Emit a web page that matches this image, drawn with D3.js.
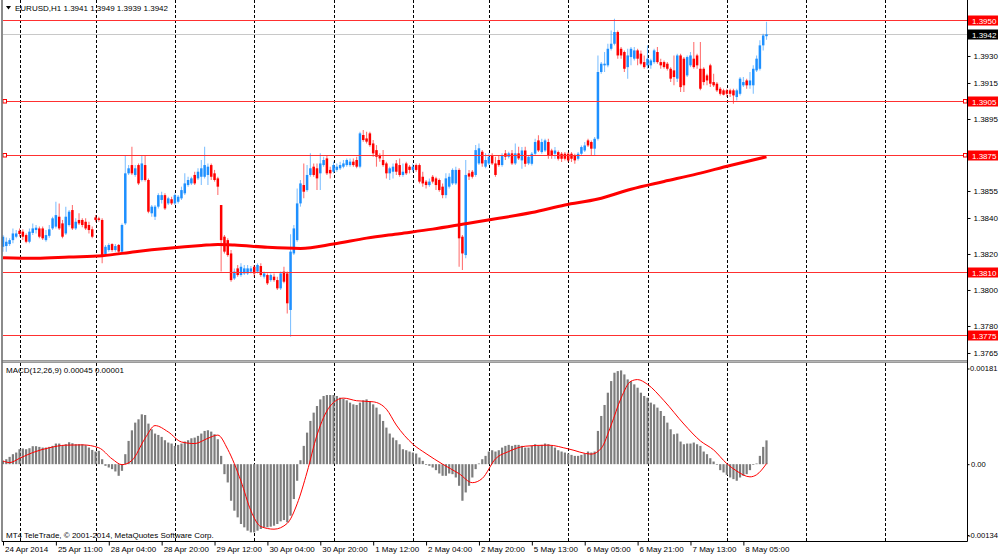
<!DOCTYPE html>
<html><head><meta charset="utf-8">
<script src="https://cdn.jsdelivr.net/npm/d3@7"></script>
<style>
html,body{margin:0;padding:0;background:#fff;}
svg{display:block;}
</style></head><body>
<svg id="c" width="1000" height="556"></svg>
<script>
// ---------- DATA ----------
const symbolTitle = "EURUSD,H1";
const lastOHLC = [1.3941, 1.3949, 1.3939, 1.3942];

const open = [
1.3824,1.38244,1.38255,1.38277,1.38296,1.38329,1.38324,1.38305,1.38268,1.38317,
1.38333,1.38342,1.38342,1.38277,1.38301,1.38342,1.38352,1.38407,1.3837,1.38314,
1.38361,1.38444,1.38342,1.38389,1.38389,1.38379,1.38361,1.38337,1.38403,1.38398,
1.38389,1.382,1.38222,1.38255,1.38222,1.3825,1.38213,1.3837,1.38648,1.38694,
1.38639,1.38694,1.38611,1.38694,1.38611,1.38426,1.38407,1.38463,1.385,1.38527,
1.38481,1.38504,1.38481,1.3849,1.38509,1.38537,1.38583,1.38592,1.38639,1.3862,
1.38629,1.38629,1.38639,1.38694,1.38648,1.3862,1.38472,1.38296,1.38277,1.38203,
1.38064,1.3812,1.38083,1.38092,1.38092,1.38102,1.38129,1.38102,1.38133,1.38074,
1.38083,1.38055,1.38074,1.38055,1.38009,1.38102,1.38092,1.37889,1.38203,1.38277,
1.38481,1.38583,1.38555,1.38639,1.38685,1.38676,1.38648,1.38694,1.38731,1.38667,
1.38657,1.38667,1.38676,1.38685,1.38694,1.38694,1.38713,1.38722,1.38685,1.38861,
1.38842,1.3887,1.38814,1.38777,1.3875,1.38722,1.38703,1.38648,1.38657,1.38703,
1.38694,1.38639,1.38703,1.38685,1.38667,1.38694,1.38694,1.38629,1.38602,1.38583,
1.38629,1.3862,1.38611,1.38574,1.38527,1.38574,1.38592,1.38592,1.38667,1.38296,
1.38194,1.38648,1.38657,1.38639,1.38703,1.38768,1.38685,1.38703,1.3875,1.38703,
1.38722,1.38694,1.38759,1.3874,1.38759,1.38703,1.38759,1.3872,1.38775,1.38703,
1.38701,1.38757,1.38831,1.38766,1.38775,1.38822,1.38775,1.38757,1.38766,1.38757,
1.38757,1.38757,1.38757,1.38748,1.38729,1.38757,1.38775,1.38831,1.38822,1.38785,
1.3884,1.39211,1.39248,1.39248,1.3934,1.39368,1.39433,1.3934,1.39322,1.39238,
1.39294,1.39285,1.39331,1.39313,1.39266,1.39248,1.39248,1.39266,1.39322,1.39266,
1.39266,1.39257,1.39229,1.3922,1.39174,1.39303,1.39285,1.39192,1.39248,1.39285,
1.39303,1.39229,1.39229,1.39192,1.39248,1.39155,1.39146,1.39118,1.39109,1.39109,
1.39109,1.39109,1.39072,1.3909,1.39137,1.39164,1.39137,1.39137,1.3922,1.39229,
1.39359,1.3941
];
const high = [
1.38305,1.38292,1.38287,1.38342,1.38333,1.38342,1.38337,1.38314,1.38342,1.3837,
1.38361,1.38352,1.38352,1.38333,1.38361,1.38407,1.3849,1.38481,1.38389,1.38463,
1.38444,1.38472,1.38398,1.38426,1.38398,1.38398,1.38379,1.38352,1.38416,1.38407,
1.38398,1.3825,1.38259,1.38259,1.38255,1.38255,1.3837,1.3875,1.38694,1.38796,
1.38694,1.38703,1.3875,1.3875,1.3862,1.38472,1.38472,1.38537,1.38546,1.38537,
1.38518,1.38518,1.38537,1.38527,1.38574,1.38648,1.38629,1.38629,1.38657,1.38676,
1.38722,1.38796,1.38703,1.38703,1.38667,1.38629,1.38472,1.38305,1.38287,1.38222,
1.3812,1.38139,1.38148,1.38139,1.38139,1.38133,1.38139,1.38148,1.38148,1.38102,
1.38092,1.38092,1.38092,1.38074,1.38102,1.38129,1.38102,1.3831,1.38361,1.38564,
1.38611,1.38703,1.38694,1.38759,1.38703,1.38703,1.38759,1.3874,1.3875,1.38685,
1.38713,1.38703,1.38713,1.38722,1.38731,1.38731,1.38731,1.3874,1.38879,1.38889,
1.38879,1.38879,1.38833,1.38805,1.38759,1.38777,1.38713,1.38685,1.38703,1.38722,
1.38731,1.38703,1.38713,1.38694,1.38703,1.38703,1.38703,1.38657,1.38611,1.3862,
1.38639,1.38629,1.3862,1.38592,1.38648,1.38648,1.38676,1.38685,1.38676,1.38305,
1.38722,1.38667,1.38667,1.38805,1.38814,1.38777,1.38759,1.38759,1.38759,1.3874,
1.3875,1.38759,1.38777,1.38768,1.38777,1.38814,1.38796,1.38794,1.38796,1.38748,
1.38767,1.3884,1.38859,1.3884,1.3884,1.3884,1.38785,1.38794,1.38775,1.38766,
1.38766,1.38766,1.38766,1.38757,1.38766,1.38803,1.38822,1.3884,1.38831,1.3885,
1.39303,1.39266,1.39322,1.39368,1.39442,1.39507,1.39442,1.3935,1.39331,1.3934,
1.3935,1.3935,1.3934,1.39331,1.39303,1.39359,1.39285,1.3934,1.3935,1.39285,
1.39275,1.39266,1.39238,1.39303,1.39313,1.39313,1.39294,1.39303,1.39322,1.39377,
1.39313,1.39377,1.39238,1.39201,1.39257,1.39201,1.39155,1.39127,1.39118,1.39118,
1.39118,1.39118,1.39118,1.39183,1.39183,1.39174,1.39211,1.39248,1.39303,1.39387,
1.39424,1.3949
];
const low = [
1.38213,1.38213,1.38244,1.38259,1.38287,1.38296,1.38277,1.38259,1.38259,1.38305,
1.38314,1.38287,1.38277,1.38268,1.3829,1.38333,1.38342,1.38333,1.38287,1.38305,
1.38352,1.38333,1.38333,1.38361,1.38348,1.38333,1.38314,1.38287,1.38379,1.38379,
1.38148,1.38194,1.38213,1.38213,1.38213,1.38207,1.38203,1.38361,1.38639,1.38639,
1.38629,1.38583,1.38602,1.38602,1.38426,1.38407,1.38389,1.38453,1.38481,1.38444,
1.38472,1.38472,1.38472,1.38481,1.385,1.38527,1.38574,1.38583,1.38583,1.38611,
1.38583,1.3862,1.38583,1.38611,1.38602,1.38527,1.38102,1.38203,1.38185,1.38046,
1.38055,1.38074,1.38074,1.38083,1.38083,1.38092,1.38074,1.38092,1.38074,1.38064,
1.38028,1.38046,1.38046,1.38,1.38,1.38037,1.3787,1.3774,1.38194,1.38268,
1.38463,1.38509,1.38546,1.38629,1.38629,1.38555,1.38555,1.38685,1.38639,1.3862,
1.38648,1.38657,1.38667,1.38676,1.38685,1.38685,1.38685,1.38676,1.38676,1.38824,
1.38814,1.38796,1.3874,1.38685,1.38713,1.38685,1.3862,1.38611,1.3862,1.38639,
1.38629,1.38629,1.38639,1.38648,1.38657,1.38657,1.38592,1.38574,1.38564,1.38574,
1.38592,1.38555,1.38546,1.38509,1.38509,1.38564,1.38583,1.38583,1.38129,1.38111,
1.38176,1.38611,1.3862,1.38629,1.38694,1.38685,1.38676,1.38694,1.38694,1.38629,
1.38685,1.38685,1.38722,1.38731,1.38694,1.38694,1.38722,1.38674,1.38685,1.38694,
1.38692,1.38748,1.38766,1.38757,1.38766,1.38729,1.38729,1.38729,1.3872,1.38711,
1.3872,1.38711,1.38711,1.38701,1.3872,1.38748,1.38766,1.38794,1.38748,1.38748,
1.38831,1.39201,1.39211,1.39238,1.39331,1.39359,1.39285,1.39285,1.39211,1.39174,
1.39248,1.39275,1.39248,1.39248,1.39229,1.39229,1.39229,1.39257,1.39257,1.39229,
1.39229,1.3922,1.39155,1.39137,1.39155,1.391,1.391,1.39183,1.39238,1.39229,
1.39229,1.39109,1.39137,1.39137,1.39127,1.39127,1.391,1.39081,1.39081,1.39072,
1.39072,1.39035,1.39053,1.39081,1.39127,1.39118,1.39118,1.3909,1.39211,1.3922,
1.39331,1.3939
];
const close = [
1.38296,1.38268,1.38277,1.38314,1.38314,1.38311,1.38296,1.38268,1.38324,1.38342,
1.38346,1.38296,1.38287,1.38305,1.38337,1.38398,1.38416,1.38342,1.38296,1.38407,
1.38435,1.38342,1.38379,1.3837,1.38361,1.38342,1.38333,1.38296,1.38389,1.38389,
1.38194,1.3824,1.3825,1.38222,1.38244,1.38213,1.38361,1.38648,1.38676,1.38648,
1.38676,1.38592,1.38703,1.38611,1.38435,1.38463,1.38463,1.38527,1.38527,1.38453,
1.38509,1.38481,1.38527,1.38518,1.38555,1.38592,1.38611,1.3862,1.38592,1.38657,
1.38676,1.38694,1.38685,1.38629,1.38611,1.38574,1.38277,1.38213,1.38194,1.38055,
1.38102,1.38083,1.38129,1.3812,1.3812,1.3812,1.38092,1.38139,1.38083,1.38092,
1.38037,1.38083,1.38055,1.38009,1.38092,1.38046,1.37926,1.38213,1.38342,1.38481,
1.38592,1.38546,1.38639,1.38676,1.38639,1.3862,1.38703,1.38722,1.38648,1.38648,
1.38694,1.38685,1.38694,1.38703,1.38722,1.38713,1.38694,1.38685,1.3887,1.38833,
1.38824,1.38805,1.38759,1.3874,1.38731,1.38694,1.38648,1.38676,1.38685,1.38657,
1.38639,1.38657,1.38648,1.38667,1.38685,1.38667,1.38602,1.38592,1.38583,1.38602,
1.38602,1.38583,1.38555,1.38527,1.3862,1.38629,1.38667,1.38667,1.38287,1.38203,
1.38639,1.3863,1.38629,1.38777,1.38787,1.38703,1.38722,1.3874,1.38703,1.38639,
1.38694,1.3875,1.3874,1.38759,1.38703,1.38759,1.38731,1.38775,1.38701,1.3874,
1.38757,1.38822,1.38775,1.38822,1.38831,1.38748,1.38748,1.38775,1.38729,1.38729,
1.38729,1.3872,1.38729,1.3872,1.38757,1.38794,1.38803,1.38803,1.38785,1.3884,
1.39211,1.39257,1.39257,1.3934,1.39368,1.39433,1.39303,1.39303,1.39229,1.39303,
1.3934,1.39331,1.39285,1.39257,1.39238,1.39285,1.39275,1.39331,1.39266,1.39248,
1.39238,1.39229,1.39174,1.39183,1.39303,1.39127,1.39137,1.39294,1.39303,1.39238,
1.39248,1.39118,1.39155,1.39164,1.39146,1.39137,1.39109,1.3909,1.39085,1.3909,
1.3909,1.39081,1.39109,1.39174,1.39155,1.39137,1.39164,1.39229,1.39285,1.39359,
1.39414,1.3942
];

// moving average (thick red line), sampled at bar indices
const maBars   = [0,10,20,30,40,50,60,65,70,80,90,100,110,120,130,140,150,160,170,180,190,200,210,220,231];
const maValues = [1.38179,1.38176,1.38183,1.3819,1.38213,1.38232,1.38247,1.38253,1.3825,1.38237,1.38231,1.38255,1.38288,1.38313,1.38338,1.38368,1.38398,1.3843,1.38472,1.38505,1.3856,1.38603,1.38645,1.38692,1.3874];

// MACD(12,26,9) main histogram, one value per bar
const macdHist = [
0.000063,0.000094,0.000138,0.000189,0.00022,0.000283,0.000296,0.000283,0.000302,0.00034,
0.00034,0.000327,0.000314,0.000314,0.000327,0.000346,0.00039,0.00039,0.000358,0.000377,
0.000415,0.000396,0.000377,0.000377,0.000377,0.000358,0.000314,0.00027,0.000239,0.000252,
0.000094,-0.000031,-0.000063,-0.000094,-0.000138,-0.00022,-0.000126,0.000189,0.00044,0.00064,
0.000786,0.000849,0.000943,0.00093,0.000767,0.00066,0.000579,0.000553,0.000516,0.000453,
0.000409,0.00039,0.000346,0.000365,0.00039,0.000428,0.000453,0.00049,0.000503,0.000535,
0.000579,0.000629,0.000642,0.000616,0.000566,0.000472,0.000157,-0.000189,-0.000346,-0.000692,
-0.00088,-0.001006,-0.001132,-0.001195,-0.001258,-0.00129,-0.00129,-0.001258,-0.001226,-0.001195,
-0.001195,-0.001182,-0.001164,-0.001132,-0.001082,-0.001057,-0.0011,-0.000975,-0.00066,-0.000314,
0.000075,0.000346,0.000597,0.000818,0.000975,0.0011,0.001226,0.00129,0.001308,0.001308,
0.001308,0.00129,0.001258,0.001239,0.001208,0.001164,0.001132,0.00112,0.001164,0.001208,
0.001226,0.001195,0.001132,0.00107,0.000943,0.000818,0.000692,0.000579,0.000503,0.000453,
0.000377,0.000283,0.000264,0.000239,0.00022,0.000201,0.000126,0.000063,-0.000013,-0.000031,
-0.000063,-0.000113,-0.000176,-0.00022,-0.00022,-0.000176,-0.000189,-0.000252,-0.000409,-0.000692,
-0.000535,-0.000409,-0.000252,-0.000094,0.000013,0.000094,0.000157,0.000239,0.000264,0.000239,
0.000264,0.000314,0.000346,0.000365,0.000346,0.000365,0.000365,0.000346,0.000314,0.000314,
0.000346,0.000377,0.000346,0.000365,0.00039,0.000377,0.000346,0.000314,0.000264,0.000239,
0.00022,0.000201,0.000176,0.000157,0.000157,0.000176,0.000201,0.000239,0.00022,0.000239,
0.000629,0.000912,0.00112,0.001352,0.001572,0.00173,0.001761,0.001774,0.001698,0.001604,
0.001572,0.00151,0.001447,0.001352,0.00129,0.001258,0.001164,0.001132,0.00107,0.001006,
0.000912,0.000786,0.00066,0.000566,0.000579,0.000428,0.000377,0.00039,0.00039,0.000409,
0.000377,0.000346,0.000239,0.000189,0.000113,0.00005,-0.00001,-0.000113,-0.000157,-0.000201,
-0.000252,-0.000283,-0.000314,-0.000252,-0.00022,-0.000189,-0.000113,-0.000013,0.000013,0.000157,
0.000327,0.00045
];
// MACD signal line, sampled at bar indices
const signalBars   = [0,2,5,9,14,19,24,29,33,36,39,43,46,50,54,58,62,65,68,72,75,78,82,86,89,92,95,99,103,107,112,116,119,124,128,133,138,142,145,149,153,158,165,171,178,181,184,187,190,192,195,200,206,211,215,219,222,226,228,231];
const signalValues = [0.00006,0.00003,0.00011,0.00022,0.00031,0.00036,0.000365,0.00031,0.0001,-0.00001,0.00007,0.00049,0.00073,0.00061,0.00042,0.00039,0.00049,0.00055,0.00028,-0.00032,-0.00088,-0.00118,-0.00123,-0.00112,-0.00075,-0.00015,0.00055,0.0011,0.00125,0.0012,0.00118,0.00104,0.00074,0.00038,0.0002,0,-0.00018,-0.00035,-0.00027,0.0001,0.00024,0.00034,0.00036,0.00029,0.00019,0.0003,0.00074,0.00125,0.00157,0.0016,0.00151,0.0012,0.00076,0.00044,0.00027,0.00001,-0.00013,-0.00024,-0.0002,0.00001];
const signalLast = 0.00001;

const levelLines   = [1.3950, 1.3905, 1.3875, 1.3810, 1.3775];
const markedLevels = [1.3905, 1.3875];
const bidPrice     = 1.3942;
const priceTicks   = [1.3930,1.3915,1.3895,1.3855,1.3840,1.3820,1.3800,1.3780,1.3765];
const macdTicks    = [0.00181, 0, -0.00134];
const timeTickBars = [0,16,32,48,64,80,96,112,128,144,160,176,192,208,224];
const timeLabels   = ["24 Apr 2014","25 Apr 11:00","28 Apr 04:00","28 Apr 20:00","29 Apr 12:00","30 Apr 04:00","30 Apr 20:00","1 May 12:00","2 May 04:00","2 May 20:00","5 May 13:00","6 May 05:00","6 May 21:00","7 May 13:00","8 May 05:00"];
const gridBars     = [5,28,52,76,100,124,147,171,195,219,243,267];
const macdTitle    = "MACD(12,26,9)";
const copyright    = "MT4 TeleTrade, \u00A9 2001-2014, MetaQuotes Software Corp.";

// ---------- DRAW ----------
const FONT = '"Liberation Sans", Arial, sans-serif';
const svg = d3.select("#c");
const n = Math.min(open.length, high.length, low.length, close.length);
const AX = 967.5;           // right axis x
const MAIN_TOP = 0, MAIN_BOT = 360, SUB_TOP = 363, SUB_BOT = 541.5;

const x = d3.scaleLinear().domain([0, 231]).range([3, 766.5]);
const y = d3.scaleLinear().domain([1.37611, 1.39611]).range([MAIN_BOT, MAIN_TOP]);
const m = d3.scaleLinear().domain([-0.00134, 0.00181]).range([535, 368.5]);

svg.append("rect").attr("width",1000).attr("height",556).attr("fill","#fff");

// vertical dashed grid
const g = svg.append("g").attr("stroke","#000").attr("stroke-width",1)
  .attr("stroke-dasharray","3,2").attr("shape-rendering","crispEdges");
g.selectAll("line.gm").data(gridBars).join("line").attr("class","gm")
  .attr("x1",d=>Math.round(x(d))+0.5).attr("x2",d=>Math.round(x(d))+0.5)
  .attr("y1",MAIN_TOP).attr("y2",MAIN_BOT);
g.selectAll("line.gs").data(gridBars).join("line").attr("class","gs")
  .attr("x1",d=>Math.round(x(d))+0.5).attr("x2",d=>Math.round(x(d))+0.5)
  .attr("y1",SUB_TOP).attr("y2",SUB_BOT);

// bid line
svg.append("line").attr("x1",3).attr("x2",AX).attr("y1",Math.round(y(bidPrice))+0.5).attr("y2",Math.round(y(bidPrice))+0.5)
  .attr("stroke","#c8c8c8").attr("stroke-width",1);

// candles
const bars = d3.range(n).map(i=>({i,o:open[i],h:high[i],l:low[i],c:close[i]}));
const col = d=> d.c>=d.o ? "#1E90FF" : "#FF0000";
const cg = svg.append("g");
cg.selectAll("line").data(bars).join("line")
  .attr("x1",d=>x(d.i)).attr("x2",d=>x(d.i))
  .attr("y1",d=>y(d.h)).attr("y2",d=>y(d.l))
  .attr("stroke",col).attr("stroke-opacity",0.55).attr("stroke-width",1.1);
cg.selectAll("rect").data(bars).join("rect")
  .attr("x",d=>x(d.i)-1.25).attr("width",2.5)
  .attr("y",d=>y(Math.max(d.o,d.c)))
  .attr("height",d=>Math.max(1,Math.abs(y(d.o)-y(d.c))))
  .attr("fill",col);

// moving average
svg.append("path")
  .datum(maBars.map((b,i)=>[b,maValues[i]]))
  .attr("d", d3.line().x(d=>x(d[0])).y(d=>y(d[1])).curve(d3.curveMonotoneX))
  .attr("fill","none").attr("stroke","#FF0000").attr("stroke-width",3);

// horizontal level lines
const lg = svg.append("g");
lg.selectAll("line").data(levelLines).join("line")
  .attr("x1",3).attr("x2",AX)
  .attr("y1",d=>Math.round(y(d))+0.5).attr("y2",d=>Math.round(y(d))+0.5)
  .attr("stroke","#FF3030").attr("stroke-width",1.2);
const sq = [];
markedLevels.forEach(v=>{ sq.push({v,x:3}); sq.push({v,x:963.5}); });
lg.selectAll("rect").data(sq).join("rect")
  .attr("x",d=>d.x).attr("y",d=>Math.round(y(d.v))-1.5).attr("width",3.5).attr("height",3.5)
  .attr("fill","#fff").attr("stroke","#FF0000").attr("stroke-width",1);

// separator between panels
svg.append("rect").attr("x",2).attr("y",360).attr("width",AX-2).attr("height",3).attr("fill","#9a9a9a");
svg.append("line").attr("x1",2).attr("x2",AX).attr("y1",361.5).attr("y2",361.5).attr("stroke","#bdbdbd").attr("stroke-width",0.8);

// MACD histogram
svg.append("g").selectAll("rect").data(macdHist).join("rect")
  .attr("x",(d,i)=>x(i)-1.1).attr("width",2.2)
  .attr("y",d=>m(Math.max(0,d)))
  .attr("height",d=>Math.max(0.6,Math.abs(m(d)-m(0))))
  .attr("fill","#7d7d7d");

// MACD signal
svg.append("path")
  .datum(signalBars.map((b,i)=>[b,signalValues[i]]))
  .attr("d", d3.line().x(d=>x(d[0])).y(d=>m(d[1])).curve(d3.curveMonotoneX))
  .attr("fill","none").attr("stroke","#FF0000").attr("stroke-width",1);

// frame
svg.append("line").attr("x1",2).attr("x2",2).attr("y1",0).attr("y2",SUB_BOT).attr("stroke","#6e6e6e").attr("stroke-width",1.6);
svg.append("line").attr("x1",AX).attr("x2",AX).attr("y1",0).attr("y2",SUB_BOT).attr("stroke","#000").attr("stroke-width",1);
svg.append("line").attr("x1",2).attr("x2",AX).attr("y1",SUB_BOT).attr("y2",SUB_BOT).attr("stroke","#000").attr("stroke-width",1);

function styleAxis(sel){
  sel.attr("font-family",FONT).attr("font-size",8);
  sel.select(".domain").remove();
  sel.selectAll(".tick line").attr("stroke","#000");
  sel.selectAll(".tick text").attr("fill","#000");
}
// price axis
svg.append("g").attr("transform",`translate(${AX},0)`)
  .call(d3.axisRight(y).tickValues(priceTicks).tickSize(3).tickPadding(3).tickFormat(d=>d.toFixed(4)))
  .call(styleAxis);
// MACD axis
svg.append("g").attr("transform",`translate(${AX},0)`)
  .call(d3.axisRight(m).tickValues(macdTicks).tickSize(2).tickPadding(1)
    .tickFormat(d=> d===0 ? "0.00" : d.toFixed(5)))
  .call(styleAxis)
  .call(s=>s.attr("font-size",7.6))
  .call(s=>s.selectAll(".tick text").attr("x",d=>d<0 ? 0.5 : (d===0 ? 3.5 : 2.5)));
// time axis
svg.append("g").attr("transform",`translate(0,${SUB_BOT})`)
  .call(d3.axisBottom(x).tickValues(timeTickBars).tickSize(4).tickPadding(1)
    .tickFormat((d,i)=>timeLabels[i]))
  .call(styleAxis)
  .call(s=>s.selectAll(".tick text").attr("text-anchor","start").attr("x",1.5));

// level price labels on the axis
const lab = svg.append("g").attr("font-family",FONT).attr("font-size",8);
const labels = levelLines.map(v=>({v,bg:"#FF0000"})).concat([{v:bidPrice,bg:"#000"}]);
lab.selectAll("rect").data(labels).join("rect")
  .attr("x",968).attr("width",30).attr("y",d=>Math.round(y(d.v))-4.5).attr("height",10)
  .attr("fill",d=>d.bg);
lab.selectAll("text").data(labels).join("text")
  .attr("x",972).attr("y",d=>Math.round(y(d.v))+3.5)
  .attr("fill","#fff").text(d=>d.v.toFixed(4));

// header
svg.append("path").attr("d","M6,6 L11,6 L8.5,9.5 Z").attr("fill","#000");
svg.append("text").attr("x",15).attr("y",11).attr("font-family",FONT).attr("font-size",8).attr("fill","#000")
  .text(symbolTitle + "  " + lastOHLC.map(v=>v.toFixed(4)).join(" "));
svg.append("text").attr("x",6).attr("y",373).attr("font-family",FONT).attr("font-size",8).attr("fill","#000")
  .text(macdTitle + " " + macdHist[macdHist.length-1].toFixed(5) + " " + signalLast.toFixed(5));
svg.append("text").attr("x",6).attr("y",538).attr("font-family",FONT).attr("font-size",8).attr("fill","#000")
  .text(copyright);
</script>
</body></html>
